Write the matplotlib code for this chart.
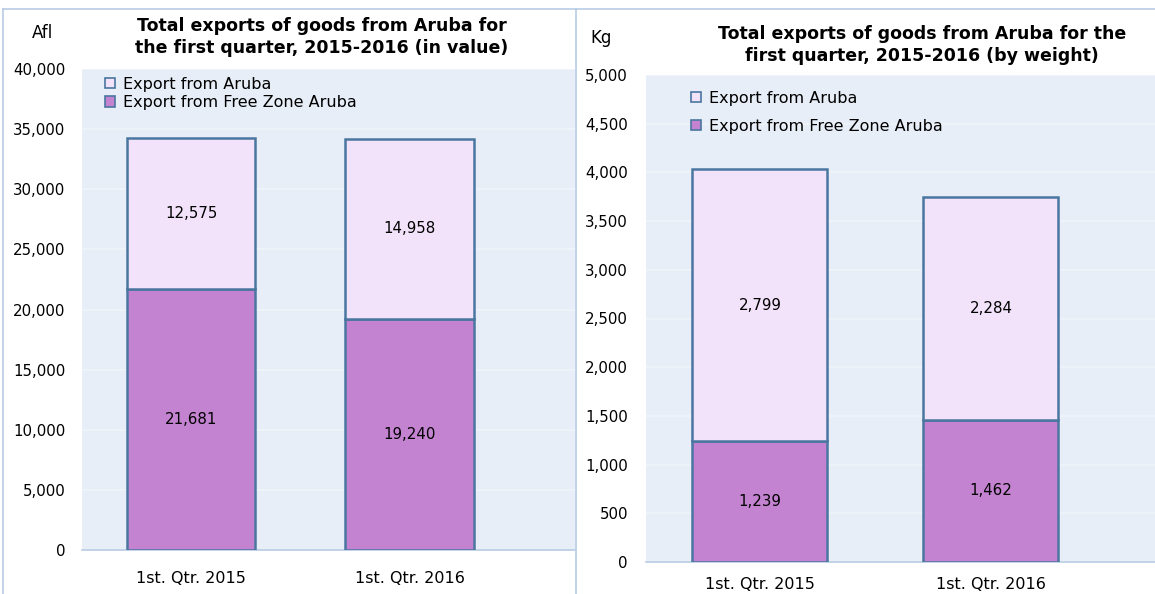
import matplotlib
matplotlib.use("Agg")
import matplotlib.pyplot as plt
from matplotlib.lines import Line2D
from matplotlib.patches import Patch
from matplotlib.ticker import FuncFormatter

plt.rcParams['font.family'] = ['DejaVu Sans']

quarters = ["1st. Qtr. 2015", "1st. Qtr. 2016"]
series = ["Export from Aruba", "Export from Free Zone Aruba"]

# value in Afl (thousands)
free_zone_value = [21681, 19240]
aruba_value = [12575, 14958]

# weight in Kg (thousands)
free_zone_weight = [1239, 1462]
aruba_weight = [2799, 2284]

titles = ["Total exports of goods from Aruba for\nthe first quarter, 2015-2016 (in value)",
          "Total exports of goods from Aruba for the\nfirst quarter, 2015-2016 (by weight)"]
units = ["Afl", "Kg"]

c_low = "#C383D1"
c_high = "#F2E3FA"
c_edge = "#4A76A0"
c_bg = "#E8EEF7"
c_grid = "#F0F4FA"
c_border = "#B8CCE4"

W, H = 1155, 594
fig = plt.figure(figsize=(W / 100, H / 100), dpi=100)


def fx(px):
    return px / W


def fy(py):
    return 1 - py / H


def draw_panel(ax, low, high, ymax, step, xlim, width, xpad, ypad):
    x = list(range(len(quarters)))
    ax.set_facecolor(c_bg)
    ax.bar(x, low, width, color=c_low, edgecolor=c_edge, linewidth=1.8, zorder=3)
    ax.bar(x, high, width, bottom=low, color=c_high, edgecolor=c_edge,
           linewidth=1.8, zorder=3)
    for xi, lo, hi in zip(x, low, high):
        ax.text(xi, lo / 2, "{:,}".format(lo), ha="center", va="center",
                fontsize=10.8, zorder=4)
        ax.text(xi, lo + hi / 2, "{:,}".format(hi), ha="center", va="center",
                fontsize=10.8, zorder=4)
    ax.set_ylim(0, ymax)
    ax.set_xlim(*xlim)
    ax.set_yticks(range(0, ymax + 1, step))
    ax.yaxis.set_major_formatter(FuncFormatter(lambda v, p: "{:,}".format(int(v))))
    ax.set_xticks(x)
    ax.set_xticklabels(quarters)
    ax.tick_params(axis="y", length=0, pad=xpad, labelsize=10.8)
    ax.tick_params(axis="x", length=0, pad=ypad, labelsize=11.5)
    ax.grid(axis="y", color=c_grid, linewidth=1.2, zorder=0)
    ax.set_axisbelow(True)
    for s in ["top", "right", "left"]:
        ax.spines[s].set_visible(False)
    ax.spines["bottom"].set_color(c_border)
    ax.spines["bottom"].set_linewidth(1.2)


ax1 = fig.add_axes([fx(82), fy(550), fx(575 - 82), fy(69) - fy(550)])
draw_panel(ax1, free_zone_value, aruba_value, 40000, 5000,
           (-0.498, 1.754), 0.589, 12, 15)

ax2 = fig.add_axes([fx(646), fy(562), fx(1155 - 646), fy(75) - fy(562)])
draw_panel(ax2, free_zone_weight, aruba_weight, 5000, 500,
           (-0.493, 1.710), 0.584, 13, 11)

handles = [Patch(facecolor=c_high, edgecolor=c_edge, linewidth=1.2),
           Patch(facecolor=c_low, edgecolor=c_edge, linewidth=1.2)]
fig.legend(handles, series, loc="upper left", bbox_to_anchor=(fx(97), fy(69)),
           frameon=False, fontsize=11.5, handlelength=0.6, handleheight=0.6,
           handletextpad=0.5, labelspacing=0.2, borderpad=0)
fig.legend(handles, series, loc="upper left", bbox_to_anchor=(fx(683), fy(83)),
           frameon=False, fontsize=11.5, handlelength=0.6, handleheight=0.6,
           handletextpad=0.5, labelspacing=0.8, borderpad=0)

fig.text(fx(322), fy(37), titles[0], ha="center", va="center",
         fontsize=12.5, fontweight="bold", linespacing=1.35)
fig.text(fx(922), fy(45), titles[1], ha="center", va="center",
         fontsize=12.5, fontweight="bold", linespacing=1.35)
fig.text(fx(42), fy(33), units[0], ha="center", va="center", fontsize=12)
fig.text(fx(601), fy(38), units[1], ha="center", va="center", fontsize=12)

# panel borders
for xs, ys in [((3, 1155), (9, 9)), ((3, 3), (9, 594)), ((576, 576), (9, 594))]:
    fig.add_artist(Line2D([fx(xs[0]), fx(xs[1])], [fy(ys[0]), fy(ys[1])],
                          color=c_border, linewidth=1.2))

fig.savefig("out.png", dpi=100)
